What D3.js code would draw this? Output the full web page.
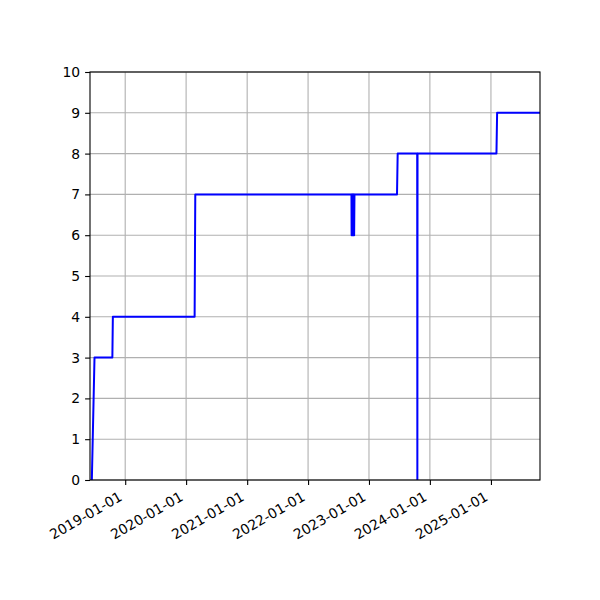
<!DOCTYPE html>
<html>
<head>
<meta charset="utf-8">
<script src="https://cdn.jsdelivr.net/npm/d3@7"></script>
<style>
  body { margin: 0; background: #fff; }
  text { font-family: "DejaVu Sans", sans-serif; }
</style>
</head>
<body>
<svg id="chart" width="600" height="600"></svg>
<script>
// series
var dates = [
  "2018-06-15", "2018-07-01", "2018-10-16", "2018-10-19",
  "2020-02-21", "2020-02-25",
  "2022-09-18", "2022-09-19", "2022-09-21", "2022-09-22", "2022-09-24", "2022-09-25",
  "2022-09-27", "2022-09-28", "2022-09-30", "2022-10-01", "2022-10-03", "2022-10-04",
  "2022-10-06",
  "2023-06-18", "2023-06-22",
  "2023-10-17", "2023-10-18", "2023-10-19",
  "2025-02-03", "2025-02-07", "2025-10-22"
];
var values = [
  0, 3, 3, 4,
  4, 7,
  7, 6, 7, 6, 7, 6,
  7, 6, 7, 6, 7, 6,
  7,
  7, 8,
  8, 0, 8,
  8, 9, 9
];
var xTicks = ["2019-01-01", "2020-01-01", "2021-01-01", "2022-01-01", "2023-01-01", "2024-01-01", "2025-01-01"];
var yTicks = [0, 1, 2, 3, 4, 5, 6, 7, 8, 9, 10];
var xRange = ["2018-06-04", "2025-10-22"];

var parse = d3.timeParse("%Y-%m-%d");
var fmt = d3.timeFormat("%Y-%m-%d");

// plot area
var pLeft = 90, pRight = 540, pTop = 72, pBottom = 480;
var svg = d3.select("#chart");

var x = d3.scaleTime()
  .domain(xRange.map(parse))
  .range([pLeft, pRight]);
var y = d3.scaleLinear()
  .domain([0, 10])
  .range([pBottom, pTop]);

var data = dates.map(function(d, i){ return {date: parse(d), value: values[i]}; });

// grid
svg.append("g").selectAll("line")
  .data(xTicks.map(parse))
  .enter().append("line")
  .attr("x1", function(d){ return x(d); })
  .attr("x2", function(d){ return x(d); })
  .attr("y1", pTop).attr("y2", pBottom)
  .attr("stroke", "#b0b0b0").attr("stroke-width", 1.1);
svg.append("g").selectAll("line")
  .data(yTicks)
  .enter().append("line")
  .attr("x1", pLeft).attr("x2", pRight)
  .attr("y1", function(d){ return y(d); })
  .attr("y2", function(d){ return y(d); })
  .attr("stroke", "#b0b0b0").attr("stroke-width", 1.1);

// clip + line
svg.append("clipPath").attr("id", "clip")
  .append("rect").attr("x", pLeft).attr("y", pTop)
  .attr("width", pRight - pLeft).attr("height", pBottom - pTop);

var line = d3.line()
  .x(function(d){ return x(d.date); })
  .y(function(d){ return y(d.value); });

svg.append("path")
  .datum(data)
  .attr("clip-path", "url(#clip)")
  .attr("d", line)
  .attr("fill", "none")
  .attr("stroke", "#0000ff")
  .attr("stroke-width", 2)
  .attr("stroke-linejoin", "round");

// axes
var xAxis = svg.append("g")
  .attr("transform", "translate(0," + pBottom + ")")
  .call(d3.axisBottom(x).tickValues(xTicks.map(parse)).tickFormat(fmt).tickSizeInner(4.9).tickSizeOuter(0).tickPadding(4.9));
xAxis.select(".domain").remove();
xAxis.selectAll("text")
  .attr("font-size", "13.9px")
  .attr("fill", "#000")
  .attr("text-anchor", "end")
  .attr("dy", null).attr("y", null)
  .attr("transform", "translate(-2.5,19.5) rotate(-30)");
xAxis.selectAll("line").attr("stroke", "#000").attr("stroke-width", 1.1);

var yAxis = svg.append("g")
  .attr("transform", "translate(" + pLeft + ",0)")
  .call(d3.axisLeft(y).tickValues(yTicks).tickFormat(d3.format("d")).tickSizeInner(4.9).tickSizeOuter(0).tickPadding(4.9));
yAxis.select(".domain").remove();
yAxis.selectAll("text").attr("font-size", "13.9px").attr("fill", "#000");
yAxis.selectAll("line").attr("stroke", "#000").attr("stroke-width", 1.1);

// frame
svg.append("rect")
  .attr("x", pLeft).attr("y", pTop)
  .attr("width", pRight - pLeft).attr("height", pBottom - pTop)
  .attr("fill", "none").attr("stroke", "#000").attr("stroke-width", 1.1);
</script>
</body>
</html>
